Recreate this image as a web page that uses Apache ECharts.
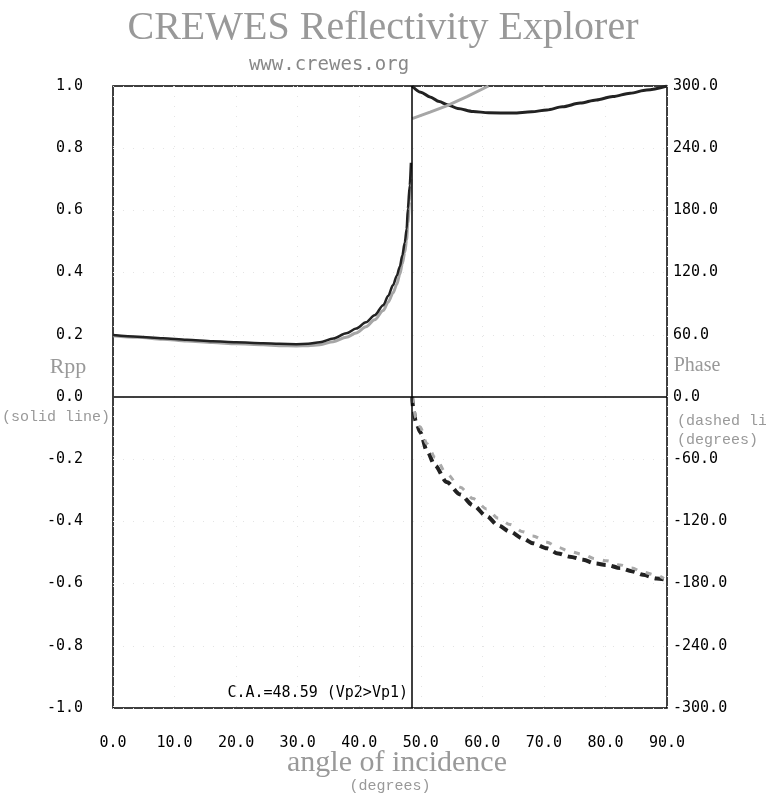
<!DOCTYPE html>
<html>
<head>
<meta charset="utf-8">
<script src="https://cdn.jsdelivr.net/npm/echarts@6/dist/echarts.min.js"></script>
<style>
  html, body { margin: 0; padding: 0; background: #fff; }
  #chart { width: 766px; height: 796px; }
</style>
</head>
<body>
<div id="chart"></div>
<script>
// critical angle (degrees)
const critAngle = 48.59

// Rpp amplitude before the critical angle
const preAngles = [0, 4, 8.1, 12, 16.2, 20, 24.4, 27, 29.8, 31.7, 33.6, 35.8, 37.9, 39.5, 41.1, 42.5, 43.9, 44.7, 45.5, 46.1, 46.6, 47.0, 47.4, 47.7, 47.9, 48.2, 48.4]
const preExact  = [0.199, 0.194, 0.189, 0.184, 0.179, 0.176, 0.173, 0.171, 0.170, 0.171, 0.176, 0.188, 0.205, 0.220, 0.240, 0.263, 0.295, 0.325, 0.360, 0.390, 0.420, 0.455, 0.497, 0.540, 0.605, 0.680, 0.753]
const preApprox = [0.197, 0.192, 0.186, 0.180, 0.175, 0.171, 0.168, 0.165, 0.164, 0.165, 0.168, 0.178, 0.192, 0.206, 0.226, 0.248, 0.278, 0.305, 0.335, 0.362, 0.395, 0.428, 0.465, 0.505, 0.560, 0.630, 0.700]

// Rpp amplitude after the critical angle
const postAngles = [48.59, 50, 51.5, 53, 54.3, 56, 58.5, 61, 65, 68, 70.5, 73, 75.9, 78.5, 81.2, 84, 86.7, 90]
const postExact  = [1.0, 0.98, 0.965, 0.95, 0.94, 0.928, 0.918, 0.914, 0.913, 0.917, 0.923, 0.933, 0.945, 0.955, 0.966, 0.977, 0.987, 1.0]
const approxAngles = [48.59, 51.5, 54.2, 57.5, 61]
const postApprox   = [0.895, 0.916, 0.936, 0.966, 1.0]

// phase (degrees), dashed
const phaseAngles = [48.59, 48.8, 49.2, 49.9, 51.0, 52.3, 54.2, 56.4, 58.5, 60.7, 62.6, 64.5, 66.6, 68.2, 70.5, 72.3, 74.2, 76.4, 78.3, 80.2, 82.4, 84.3, 86.1, 88.3, 89.5]
const phaseExact  = [0, -12, -24, -34, -52, -66, -82, -94, -104.5, -115, -124, -130, -136.5, -141, -146, -151, -154, -157, -160.5, -162, -165, -168, -171.5, -175, -176]
const phaseApprox = [0, -10, -20, -29, -45, -58, -74, -87, -98, -108, -117, -123, -130, -134, -140, -145, -149, -152, -156, -158, -162, -165, -169, -172, -175]

const xTicks = [0, 10, 20, 30, 40, 50, 60, 70, 80, 90]

function pairs(xs, ys) { return xs.map((x, i) => [x, ys[i]]) }

const mono = '"DejaVu Sans Mono", monospace'
const small = '"Liberation Mono", monospace'
const serif = '"Liberation Serif", serif'
const gray = '#999'

var myChart = echarts.init(document.getElementById('chart'), null, { width: 766, height: 796 })

myChart.setOption({
  animation: false,
  grid: {
    left: 113, right: 99, top: 86, bottom: 88,
    show: true, borderColor: '#000', borderWidth: 1.5
  },
  xAxis: {
    type: 'value',
    min: xTicks[0], max: xTicks[xTicks.length - 1], interval: 10,
    axisLine: { show: false },
    axisTick: { show: false },
    splitLine: { show: true, lineStyle: { color: '#e4e4e4', type: [1, 9] } },
    axisLabel: {
      margin: 28, color: '#000', fontFamily: mono, fontSize: 15,
      formatter: v => v.toFixed(1)
    }
  },
  yAxis: [
    {
      type: 'value', min: -1, max: 1, interval: 0.2, position: 'left',
      axisLine: { show: false },
      axisTick: { show: false },
      splitLine: { show: true, lineStyle: { color: '#e4e4e4', type: [1, 9] } },
      axisLabel: {
        margin: 30, color: '#000', fontFamily: mono, fontSize: 15,
        formatter: v => v.toFixed(1)
      }
    },
    {
      type: 'value', min: -300, max: 300, interval: 60, position: 'right',
      axisLine: { show: false },
      axisTick: { show: false },
      splitLine: { show: false },
      axisLabel: {
        margin: 6, color: '#000', fontFamily: mono, fontSize: 15,
        formatter: v => v.toFixed(1)
      }
    }
  ],
  series: [
    {
      name: 'approx pre', type: 'line', yAxisIndex: 0, showSymbol: false, silent: true,
      smooth: 0.3, smoothMonotone: 'x',
      data: pairs(preAngles, preApprox),
      lineStyle: { color: '#a6a6a6', width: 3 },
      markLine: {
        silent: true, symbol: 'none', label: { show: false },
        lineStyle: { color: '#000', width: 1.5, type: 'solid' },
        data: [{ yAxis: 0 }, { xAxis: critAngle }]
      }
    },
    {
      name: 'exact pre', type: 'line', yAxisIndex: 0, showSymbol: false, silent: true,
      smooth: 0.3, smoothMonotone: 'x',
      data: pairs(preAngles, preExact),
      lineStyle: { color: '#222', width: 2.5 }
    },
    {
      name: 'exact post', type: 'line', yAxisIndex: 0, showSymbol: false, silent: true,
      smooth: 0.3, smoothMonotone: 'x',
      data: pairs(postAngles, postExact),
      lineStyle: { color: '#222', width: 3 }
    },
    {
      name: 'approx post', type: 'line', yAxisIndex: 0, showSymbol: false, silent: true,
      data: pairs(approxAngles, postApprox),
      lineStyle: { color: '#a6a6a6', width: 3 }
    },
    {
      name: 'phase exact', type: 'line', yAxisIndex: 1, showSymbol: false, silent: true,
      smooth: 0.3, smoothMonotone: 'x',
      data: pairs(phaseAngles, phaseExact),
      lineStyle: { color: '#222', width: 4, type: [9, 6] }
    },
    {
      name: 'phase approx', type: 'line', yAxisIndex: 1, showSymbol: false, silent: true,
      smooth: 0.3, smoothMonotone: 'x',
      data: pairs(phaseAngles, phaseApprox),
      lineStyle: { color: '#aaaaaa', width: 3, type: [6, 9] }
    }
  ],
  graphic: [
    { type: 'text', x: 383, y: 28,
      style: { text: 'CREWES Reflectivity Explorer', font: '40px ' + serif, fill: gray, textAlign: 'center', textVerticalAlign: 'middle' } },
    { type: 'text', x: 329, y: 65,
      style: { text: 'www.crewes.org', font: '19px ' + mono, fill: '#888', textAlign: 'center', textVerticalAlign: 'middle' } },
    { type: 'text', x: 68, y: 367,
      style: { text: 'Rpp', font: '22px ' + serif, fill: gray, textAlign: 'center', textVerticalAlign: 'middle' } },
    { type: 'text', x: 2, y: 417,
      style: { text: '(solid line)', font: '15px ' + small, fill: gray, textAlign: 'left', textVerticalAlign: 'middle' } },
    { type: 'text', x: 697, y: 366,
      style: { text: 'Phase', font: '20px ' + serif, fill: gray, textAlign: 'center', textVerticalAlign: 'middle' } },
    { type: 'text', x: 677, y: 421,
      style: { text: '(dashed line)', font: '15px ' + small, fill: gray, textAlign: 'left', textVerticalAlign: 'middle' } },
    { type: 'text', x: 677, y: 440,
      style: { text: '(degrees)', font: '15px ' + small, fill: gray, textAlign: 'left', textVerticalAlign: 'middle' } },
    { type: 'text', x: 397, y: 763,
      style: { text: 'angle of incidence', font: '30px ' + serif, fill: gray, textAlign: 'center', textVerticalAlign: 'middle' } },
    { type: 'text', x: 390, y: 786,
      style: { text: '(degrees)', font: '15px ' + small, fill: gray, textAlign: 'center', textVerticalAlign: 'middle' } },
    { type: 'text', x: 408, y: 693,
      style: { text: 'C.A.=48.59 (Vp2>Vp1)', font: '15px ' + mono, fill: '#000', textAlign: 'right', textVerticalAlign: 'middle' } }
  ]
})
</script>
</body>
</html>
